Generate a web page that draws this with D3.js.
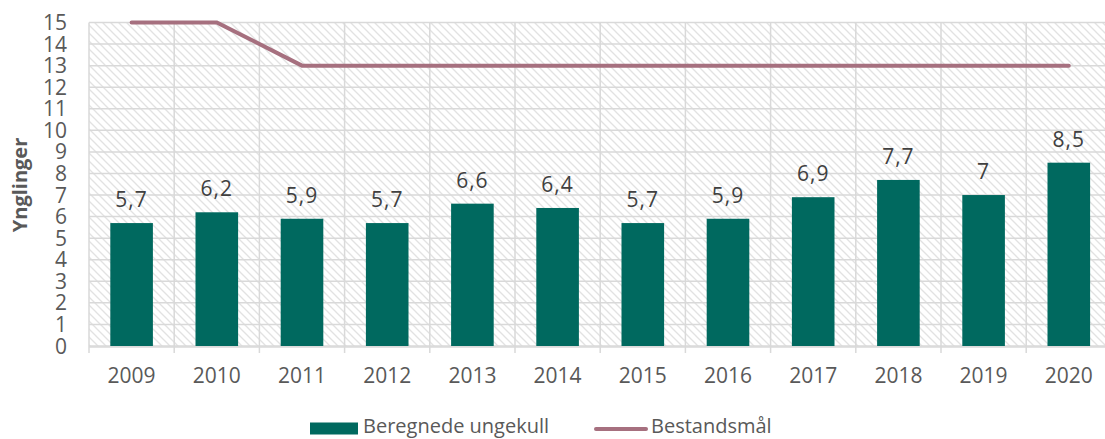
<!DOCTYPE html>
<html>
<head>
<meta charset="utf-8">
<script src="https://cdn.jsdelivr.net/npm/d3@7"></script>
<style>
  body { margin: 0; background: #fff; }
  text { font-family: "Open Sans", "Noto Sans", sans-serif; }
</style>
</head>
<body>
<div id="chart"></div>
<script>
// data
var years = ["2009","2010","2011","2012","2013","2014","2015","2016","2017","2018","2019","2020"];
var ungekull = [5.7, 6.2, 5.9, 5.7, 6.6, 6.4, 5.7, 5.9, 6.9, 7.7, 7, 8.5];
var bestandsmal = [15, 15, 13, 13, 13, 13, 13, 13, 13, 13, 13, 13];
var yTicks = [0,1,2,3,4,5,6,7,8,9,10,11,12,13,14,15];

var width = 1105, height = 439;
var barColor = "#00695f", lineColor = "#a6707f";

var svg = d3.select("#chart").append("svg")
    .attr("width", width)
    .attr("height", height);

// hatch pattern for the plot background
var pat = svg.append("defs").append("pattern")
    .attr("id", "hatch")
    .attr("patternUnits", "userSpaceOnUse")
    .attr("width", 8)
    .attr("height", 8);
pat.append("rect").attr("width", 8).attr("height", 8).attr("fill", "#fff");
pat.append("path")
    .attr("d", "M-2,-2 L10,10 M-2,6 L2,10 M6,-2 L10,2")
    .attr("stroke", "#e2e2e2")
    .attr("stroke-width", 1.3);

var x = d3.scaleBand()
    .domain(years)
    .range([89, 89 + 12 * 85.2])
    .paddingInner(0.5)
    .paddingOuter(0.25);

var y = d3.scaleLinear()
    .domain([0, 15])
    .range([346, 22.5]);

var plotL = x.range()[0], plotR = x.range()[1];

svg.append("rect")
    .attr("x", plotL)
    .attr("y", y(15))
    .attr("width", plotR - plotL)
    .attr("height", y(0) - y(15))
    .attr("fill", "url(#hatch)");

// horizontal gridlines
svg.append("g").selectAll("line")
    .data(yTicks)
    .enter().append("line")
    .attr("x1", plotL)
    .attr("x2", plotR)
    .attr("y1", function(d) { return y(d); })
    .attr("y2", function(d) { return y(d); })
    .attr("stroke", "#d9d9d9")
    .attr("stroke-width", 1.5);

// vertical gridlines at category boundaries
var step = x.step();
var bounds = d3.range(years.length + 1).map(function(i) { return plotL + i * step; });
svg.append("g").selectAll("line")
    .data(bounds)
    .enter().append("line")
    .attr("x1", function(d) { return d; })
    .attr("x2", function(d) { return d; })
    .attr("y1", y(15))
    .attr("y2", y(0) + 7)
    .attr("stroke", "#d9d9d9")
    .attr("stroke-width", 1.5);

// y axis labels
svg.append("g").selectAll("text")
    .data(yTicks)
    .enter().append("text")
    .attr("x", 67)
    .attr("y", function(d) { return y(d) + 7.5; })
    .attr("text-anchor", "end")
    .attr("font-size", 21)
    .attr("fill", "#595959")
    .text(function(d) { return d; });

svg.append("text")
    .attr("transform", "translate(27,185) rotate(-90)")
    .attr("text-anchor", "middle")
    .attr("font-size", 20)
    .attr("font-weight", "bold")
    .attr("fill", "#595959")
    .text("Ynglinger");

// bars
svg.append("g").selectAll("rect")
    .data(ungekull)
    .enter().append("rect")
    .attr("x", function(d, i) { return x(years[i]); })
    .attr("y", function(d) { return y(d); })
    .attr("width", x.bandwidth())
    .attr("height", function(d) { return y(0) - y(d); })
    .attr("fill", barColor);

// bar value labels
svg.append("g").selectAll("text")
    .data(ungekull)
    .enter().append("text")
    .attr("x", function(d, i) { return x(years[i]) + x.bandwidth() / 2; })
    .attr("y", function(d) { return y(d) - 16; })
    .attr("text-anchor", "middle")
    .attr("font-size", 21)
    .attr("letter-spacing", 1)
    .attr("fill", "#404040")
    .text(function(d) { return String(d).replace(".", ","); });

// axis baseline
svg.append("line")
    .attr("x1", plotL).attr("x2", plotR)
    .attr("y1", y(0) + 1).attr("y2", y(0) + 1)
    .attr("stroke", "#d9d9d9")
    .attr("stroke-width", 1.5);

// year labels
svg.append("g").selectAll("text")
    .data(years)
    .enter().append("text")
    .attr("x", function(d) { return x(d) + x.bandwidth() / 2; })
    .attr("y", 383)
    .attr("text-anchor", "middle")
    .attr("font-size", 21)
    .attr("fill", "#595959")
    .text(function(d) { return d; });

// target line
var line = d3.line()
    .x(function(d, i) { return x(years[i]) + x.bandwidth() / 2; })
    .y(function(d) { return y(d); });

svg.append("path")
    .datum(bestandsmal)
    .attr("d", line)
    .attr("fill", "none")
    .attr("stroke", lineColor)
    .attr("stroke-width", 4)
    .attr("stroke-linecap", "round");

// legend
var leg = svg.append("g");
leg.append("rect")
    .attr("x", 310).attr("y", 422.5)
    .attr("width", 48).attr("height", 12)
    .attr("fill", barColor);
leg.append("text")
    .attr("x", 363).attr("y", 433)
    .attr("font-size", 20)
    .attr("fill", "#595959")
    .text("Beregnede ungekull");
leg.append("line")
    .attr("x1", 596).attr("x2", 646)
    .attr("y1", 429).attr("y2", 429)
    .attr("stroke", lineColor)
    .attr("stroke-width", 4)
    .attr("stroke-linecap", "round");
leg.append("text")
    .attr("x", 651).attr("y", 433)
    .attr("font-size", 20)
    .attr("fill", "#595959")
    .text("Bestandsmål");
</script>
</body>
</html>
